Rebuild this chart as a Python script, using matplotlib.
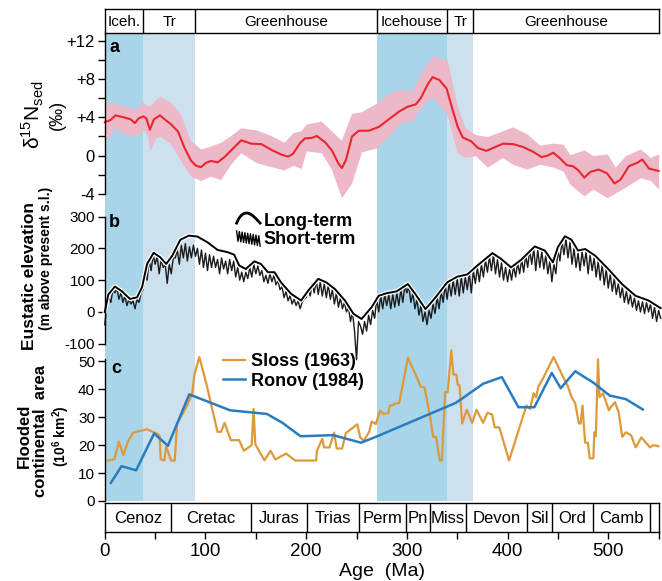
import numpy as np
import matplotlib
matplotlib.use("Agg")
import matplotlib.pyplot as plt
import matplotlib.patheffects as pe
from matplotlib.lines import Line2D
from matplotlib.legend_handler import HandlerBase

plt.rcParams['font.family'] = ['Liberation Sans', 'DejaVu Sans']
plt.rcParams['mathtext.fontset'] = 'custom'
plt.rcParams['mathtext.rm'] = 'Liberation Sans'
plt.rcParams['mathtext.bf'] = 'Liberation Sans:bold'

# ---- climate states (top strip) and shaded bands ----
climate_edges = [0, 38, 90, 270, 340, 366, 550]
climate_names = ["Iceh.", "Tr", "Greenhouse", "Icehouse", "Tr", "Greenhouse"]
ice_bands = [(0, 38), (270, 340)]
trans_bands = [(38, 90), (340, 366)]

# ---- geologic periods (bottom strip) ----
period_edges = [0, 66, 145, 201, 252, 299, 323, 359, 419, 444, 485, 541, 550]
period_names = ["Cenoz", "Cretac", "Juras", "Trias", "Perm", "Pn", "Miss",
                "Devon", "Sil", "Ord", "Camb", ""]

# ---- panel a: d15N ----
n15_age = [0, 5.5, 10.5, 18.8, 25.5, 29.8, 33.8, 38.2, 41.2, 44.8, 48.8, 54.8,
           60.5, 65.5, 72.8, 78.8, 85.5, 90.5, 95.5, 100.5, 105.5, 112, 118.8,
           125.5, 135.5, 145.5, 155.5, 165.5, 175.5, 182, 187, 193.8, 198.8,
           205.5, 210.5, 218.8, 225.5, 232.2, 235.5, 239.5, 245.5, 252.2, 262.2,
           272.2, 282.2, 292.2, 300.5, 308.8, 313.8, 320.5, 325.5, 332.2, 339.5,
           344.8, 350.5, 355.5, 363.8, 370.5, 378.8, 385.5, 395.5, 405.5, 415.5,
           425.5, 433.8, 439.5, 445.5, 452.2, 458.8, 464.8, 470.5, 476.2, 482.2,
           490.5, 498.8, 506.2, 512.2, 520.5, 528.8, 533.8, 540.5, 550]
n15_mid = [3.5, 3.7, 4.2, 4.0, 3.8, 3.4, 3.9, 4.1, 3.9, 2.7, 3.8, 4.2,
           3.7, 3.3, 2.5, 0.9, -0.5, -1.05, -1.2, -0.75, -0.55, -0.7, -0.15,
           0.55, 1.6, 1.25, 1.2, 0.6, 0.1, -0.1, 0.2, 1.3, 1.8,
           1.85, 2.05, 1.4, 0.55, -0.85, -1.3, -0.45, 2.0, 2.6, 2.6,
           3.0, 3.8, 4.6, 5.1, 5.35, 6.0, 7.4, 8.2, 7.9, 7.0,
           5.0, 3.0, 1.9, 1.5, 0.8, 0.5, 0.8, 1.25, 1.2, 0.9,
           0.4, -0.15, 0.0, 0.3, -0.3, -1.0, -1.1, -1.55, -2.3, -1.7,
           -1.45, -1.85, -2.9, -2.5, -1.1, -0.75, -0.4, -1.35, -1.6]
band_age = [0, 5, 10, 20, 30, 38, 42, 45, 50, 55, 65, 75, 85, 95, 105, 115, 125,
            135, 150, 165, 178, 187, 195, 200, 215, 225, 235, 245, 255, 270,
            285, 295, 305, 315, 325, 340, 350, 358, 368, 380, 395, 405, 419,
            432, 445, 455, 462, 476, 485, 499, 507, 517, 532, 542, 550]
band_hi = [5.5, 5.5, 5.4, 5.2, 4.8, 5.6, 5.2, 5.2, 5.8, 6.2, 5.6, 4.4, 1.6, 0.7,
           1.0, 1.4, 2.1, 2.9, 2.7, 2.1, 1.4, 2.4, 2.6, 3.3, 3.6, 2.6, 1.6, 4.4,
           4.6, 5.5, 6.7, 6.9, 6.7, 8.8, 10.4, 10.0, 5.2, 2.9, 2.2, 2.0, 2.6,
           3.0, 2.3, 1.1, 1.3, 1.2, 0.1, 0.6, 0.0, 0.2, -1.2, 0.0, 0.7, -0.2, 0.2]
band_lo = [1.6, 2.0, 3.0, 2.2, 2.0, 2.7, 2.2, 0.5, 1.8, 2.0, 1.3, -0.45, -2.1,
           -2.6, -2.15, -2.5, -0.9, 0.3, -0.7, -1.15, -1.5, -1.0, -1.35, 0.5,
           0.3, -1.4, -4.4, -2.9, 0.4, 0.8, 2.4, 3.5, 3.6, 5.2, 6.1, 4.3, 0.3,
           -0.2, 0.0, -1.2, -0.2, -0.9, -1.4, -0.9, -1.2, -1.6, -3.0, -4.2,
           -3.5, -4.4, -3.9, -3.3, -2.3, -2.6, -3.5]

# ---- panel b: eustatic elevation ----
long_age = [0, 3.5, 10, 17, 25, 32, 37, 42, 48.5, 55, 61, 67, 75, 83.5, 92, 102,
            112, 122, 128.5, 133.5, 140, 148.5, 155, 162, 168.5, 175, 185, 195,
            202, 212, 220, 228.5, 238.5, 247, 255, 265, 272, 280, 290, 301,
            308.5, 318.5, 328.5, 340, 350, 360, 370, 385, 393.5, 403.5, 413.5,
            427, 437, 445, 450, 457, 463.5, 470, 477, 487, 500, 513.5, 527,
            540, 552]
long_term = [0, 55, 80, 65, 41, 46, 78, 151, 186, 172, 151, 177, 227, 240, 237,
             219, 195, 188, 180, 146, 135, 159, 151, 125, 125, 93, 57, 36, 67,
             104, 93, 72, 36, -6, -22, 15, 51, 59, 65, 88, 56, 9, 46, 93, 111,
             118, 146, 185, 167, 140, 164, 206, 193, 156, 204, 238, 227, 193,
             198, 177, 135, 88, 51, 36, 12]
short_term = [
    -40, 20, 45, 30, 70,    60, 75, 40, 60, 30,     50, 20, 40, 25, 35,
    10, 40, 30, 60, 70,     120, 100, 165, 130, 180, 150, 175, 120, 165, 140,
    150, 90, 150, 120, 170,  170, 195, 150, 210, 170, 215, 160, 205, 170, 210,
    175, 200, 150, 195, 140, 185, 130, 180, 140, 175, 140, 165, 120, 170, 135,
    160, 120, 165, 130, 160, 110, 140, 100, 125, 95,  125, 105, 140, 110, 150,
    120, 145, 115, 130, 95,  115, 90, 120, 95, 115,   85, 100, 70, 80, 45,
    65, 35, 52, 25, 40,     20, 35, 10, 30, 40,      45, 70, 50, 90, 60,
    100, 55, 95, 50, 90,    45, 85, 40, 70, 25,      60, 15, 45, 10, 30,
    0, 15, -30, 0, -60,     -150, -30, -45, -70, -30, -60, -10, -40, 5, -20,
    40, 0, 50, 10, 55,      20, 55, 10, 55, 15,      60, 20, 70, 30, 85,
    60, 80, 30, 60, 10,     40, -10, 20, -30, 0,     -40, 5, -20, 25, -5,
    45, 10, 65, 30, 85,     40, 90, 50, 100, 55,     105, 50, 110, 60, 110,
    70, 120, 60, 130, 90,   140, 95, 150, 110, 165,  125, 175, 130, 180, 120,
    165, 110, 155, 100, 140, 95, 135, 100, 145, 110, 155, 120, 165, 125, 180,
    140, 195, 150, 200, 130, 195, 140, 190, 135, 180, 120, 160, 95, 150, 120,
    195, 160, 225, 180, 230, 170, 220, 150, 200, 140, 185, 130, 190, 145, 190,
    120, 180, 130, 170, 110, 160, 100, 150, 85, 135,  75, 120, 65, 105, 55,
    90, 45, 78, 30, 65,     25, 55, 15, 45, 5,       35, 0, 32, -5, 30,
    0, 25, -20, 15, -30,    5, -20]
short_age = np.arange(len(short_term)) * 2

# ---- panel c: flooded continental area ----
sloss_age = [3.1, 9.6, 13.9, 18.5, 23.2, 28.2, 41.9, 52.6, 54.4, 55.5, 59.1, 60.9,
             65.9, 69.5, 71.7, 81.3, 86.7, 89.2, 93.9, 101.1, 111.9, 115.4, 119,
             125.1, 133.4, 138.1, 145.9, 147.7, 149.5, 158.5, 164.6, 169.3, 180.1,
             189, 209.9, 210.6, 216, 217.8, 223.1, 227.8, 230.3, 235.7, 239.3,
             250.8, 253.6, 257.2, 262.6, 265.1, 269.1, 273.4, 277, 281.6, 283.1,
             286, 287.7, 292.4, 301, 309.3, 313.6, 317.5, 322.6, 326.1, 329,
             332.6, 334.8, 338, 340.5, 344.1, 346.2, 349.1, 350.5, 352.3, 354.9,
             359.5, 364.9, 369.2, 375.7, 380, 384.6, 387.2, 391.8, 401.5, 418.7,
             422.3, 425.9, 428.4, 430.6, 434.9, 445.7, 454.6, 460, 463.6, 467.2,
             470.8, 472.6, 474.4, 477, 479.8, 481.6, 485.2, 486.2, 487.7, 489.8,
             491.3, 494.8, 500.6, 503.1, 506.7, 510.3, 513.9, 517.5, 522.8, 527.2,
             532.9, 541.5, 545.1, 549.8]
sloss_area = [14.5, 15.0, 21.3, 16.5, 21.5, 24.5, 25.7, 24.0, 23.3, 15.0, 14.5,
              19.5, 14.5, 14.5, 27.5, 34.0, 38.3, 45.6, 51.6, 41.7, 24.8, 24.8,
              28.0, 21.8, 21.8, 18.0, 20.0, 33.0, 20.3, 14.6, 18.0, 14.9, 17.0,
              14.5, 14.5, 18.0, 22.3, 19.2, 19.2, 24.5, 18.8, 18.8, 24.3, 27.5,
              22.8, 21.6, 24.8, 28.5, 27.6, 32.3, 31.2, 31.5, 34.3, 34.3, 34.9,
              35.1, 51.3, 44.9, 41.0, 40.7, 31.2, 23.0, 23.0, 14.5, 14.5, 39.0,
              39.0, 54.0, 45.3, 45.3, 41.7, 41.4, 27.8, 32.7, 28.0, 32.7, 28.0,
              31.6, 31.0, 26.4, 26.4, 14.5, 34.2, 33.0, 38.6, 37.2, 41.0, 43.7,
              51.6, 44.9, 41.0, 37.2, 35.0, 27.8, 27.8, 34.2, 20.9, 20.9, 15.3,
              15.3, 24.6, 23.2, 50.8, 37.2, 38.6, 32.5, 33.9, 35.4, 31.8, 23.0,
              24.6, 23.5, 19.2, 22.8, 19.2, 20.0, 19.6]
ronov_age = [6.0, 16.7, 31.1, 49.0, 62.7, 83.9, 124.4, 161.0, 176.5, 194.4, 226.7,
             254.4, 268.0, 348.8, 375.7, 394.3, 410.8, 426.6, 443.9, 452.8, 467.2,
             485.2, 501.3, 517.5, 534.3]
ronov_area = [6.5, 12.5, 11.0, 24.2, 19.8, 38.2, 32.5, 31.2, 28.0, 23.2, 23.6,
              20.9, 22.8, 35.2, 42.0, 44.4, 33.6, 33.6, 45.9, 40.4, 46.5, 42.4,
              37.8, 36.5, 32.8]

# colours
ICE = '#a8d5e9'
TRANS = '#cde0ee'
PINK = '#edb9c8'
RED = '#e8262d'
ORANGE = '#dd9a3a'
BLUE = '#2a7cc0'

W, H = 662, 581
XL, XR = 104.8, 658.6
fig = plt.figure(figsize=(W / 100, H / 100), dpi=100)


def add_ax(top, bottom):
    return fig.add_axes([XL / W, 1 - bottom / H, (XR - XL) / W, (bottom - top) / H])


def strip_panel(ax):
    ax.set_facecolor('none')
    for s in ['top', 'right', 'bottom']:
        ax.spines[s].set_visible(False)
    ax.spines['left'].set_linewidth(1.0)
    ax.set_xlim(0, 550)
    ax.set_xticks([])
    ax.tick_params(axis='y', direction='out', length=5, width=1.0, pad=2)


# shaded background
bg = add_ax(33.3, 501)
bg.set_xlim(0, 550)
bg.set_ylim(0, 1)
bg.axis('off')
for a0, a1 in ice_bands:
    bg.axvspan(a0, a1, color=ICE, lw=0)
for a0, a1 in trans_bands:
    bg.axvspan(a0, a1, color=TRANS, lw=0)

# top strip
top = add_ax(9.3, 33.3)
top.set_xlim(0, 550)
top.set_ylim(0, 1)
top.set_xticks([])
top.set_yticks([])
for s in top.spines.values():
    s.set_linewidth(1.0)
for i, name in enumerate(climate_names):
    x0, x1 = climate_edges[i], climate_edges[i + 1]
    if i > 0:
        top.axvline(x0, color='black', lw=1.0)
    top.text((x0 + x1) / 2, 0.47, name, ha='center', va='center', fontsize=11)

# panel a
axa = add_ax(33.3, 200)
strip_panel(axa)
axa.set_ylim(-4.63, 12.77)
axa.spines['left'].set_bounds(-4, 12.77)
axa.fill_between(band_age, band_lo, band_hi, color=PINK, lw=0, clip_on=False)
axa.plot(n15_age, n15_mid, color=RED, lw=1.5, clip_on=False)
axa.set_yticks([-4, 0, 4, 8, 12])
axa.set_yticklabels(['-4', '0', '+4', '+8', '+12'], fontsize=12)
axa.set_yticks([-2, 2, 6, 10], minor=True)
axa.tick_params(axis='y', which='minor', direction='out', length=5, width=1.0)
axa.text(0.008, 0.915, 'a', transform=axa.transAxes, fontsize=13,
         fontweight='bold', va='center')
fig.text(33 / W, 1 - 115 / H, 'δ$^{15}$N$_{\\rm sed}$', rotation=90,
         ha='center', va='center', fontsize=15)
fig.text(57 / W, 1 - 115 / H, '(‰)', rotation=90, ha='center', va='center',
         fontsize=13)


# custom legend icons
class ArcHandler(HandlerBase):
    def create_artists(self, legend, orig_handle, xdescent, ydescent, width,
                       height, fontsize, trans):
        t = np.linspace(0, 1, 15)
        xs = -xdescent + t * width
        ys = -ydescent + height * (0.2 + 0.8 * np.sin(np.pi * t ** 0.8))
        ln = Line2D(xs, ys, color='black', lw=2.0, transform=trans)
        return [ln]


class JagHandler(HandlerBase):
    def create_artists(self, legend, orig_handle, xdescent, ydescent, width,
                       height, fontsize, trans):
        n = 18
        t = np.arange(n) / (n - 1)
        xs = -xdescent + t * width
        base = height * (1.0 - 0.4 * t)
        ys = -ydescent + np.where(np.arange(n) % 2 == 0, base, base - height * 0.8)
        ln = Line2D(xs, ys, color='black', lw=1.0, transform=trans)
        return [ln]


# panel b
axb = add_ax(200, 360)
strip_panel(axb)
axb.set_ylim(-151, 352)
axb.spines['left'].set_bounds(-100, 300)
axb.plot(short_age, short_term, color='#1c1a1a', lw=1.0, clip_on=False)
axb.plot(long_age, long_term, color='black', lw=1.4, clip_on=False,
         path_effects=[pe.Stroke(linewidth=3.2, foreground='white'), pe.Normal()])
axb.set_yticks([-100, 0, 100, 200, 300])
axb.set_yticklabels(['-100', '0', '100', '200', '300'], fontsize=11)
axb.text(0.008, 0.86, 'b', transform=axb.transAxes, fontsize=13,
         fontweight='bold', va='center')
h_long = Line2D([], [], color='black')
h_short = Line2D([], [], color='black')
axb.legend([h_long, h_short], ['Long-term', 'Short-term'],
           handler_map={h_long: ArcHandler(), h_short: JagHandler()},
           loc='upper left', bbox_to_anchor=((224 - XL) / (XR - XL), 1.0),
           frameon=False, handlelength=1.3, handletextpad=0.2,
           labelspacing=0.05, borderpad=0.2,
           prop={'weight': 'bold', 'size': 13})
fig.text(30 / W, 1 - 276 / H, 'Eustatic elevation', rotation=90, ha='center',
         va='center', fontsize=12.5, fontweight='bold')
fig.text(46 / W, 1 - 258 / H, '(m above present s.l.)', rotation=90, ha='center',
         va='center', fontsize=10, fontweight='bold')

# panel c
axc = add_ax(345, 501)
strip_panel(axc)
axc.set_ylim(0, 55.9)
axc.spines['left'].set_bounds(0, 51)
axc.plot(sloss_age, sloss_area, color=ORANGE, lw=1.6, label='Sloss (1963)',
         clip_on=False)
axc.plot(ronov_age, ronov_area, color=BLUE, lw=1.8, label='Ronov (1984)',
         clip_on=False)
axc.set_yticks([0, 10, 20, 30, 40, 50])
axc.set_yticklabels(['0', '10', '20', '30', '40', '50'], fontsize=11)
axc.text(0.011, 0.85, 'c', transform=axc.transAxes, fontsize=13,
         fontweight='bold', va='center')
axc.legend(loc='upper left', bbox_to_anchor=((210 - XL) / (XR - XL), 1.03),
           frameon=False, handlelength=1.25, handletextpad=0.3,
           labelspacing=0.15, borderpad=0.2,
           prop={'weight': 'bold', 'size': 13})
fig.text(24 / W, 1 - 436 / H, 'Flooded', rotation=90, ha='center', va='center',
         fontsize=12, fontweight='bold')
fig.text(41 / W, 1 - 431 / H, 'continental  area', rotation=90, ha='center',
         va='center', fontsize=12, fontweight='bold')
fig.text(61 / W, 1 - 436 / H, r'(10$^{\mathbf{6}}$ km$^{\mathbf{2}}$)',
         rotation=90, ha='center', va='center', fontsize=10, fontweight='bold')

# bottom strip with periods and age axis
bot = add_ax(503.3, 531.7)
bot.set_xlim(0, 550)
bot.set_ylim(0, 1)
bot.set_yticks([])
for s in bot.spines.values():
    s.set_linewidth(1.0)
for i, name in enumerate(period_names):
    x0, x1 = period_edges[i], period_edges[i + 1]
    if i > 0:
        bot.axvline(x0, color='black', lw=1.0)
    bot.text((x0 + x1) / 2, 0.45, name, ha='center', va='center', fontsize=12)
bot.set_xticks(np.arange(0, 551, 100))
bot.set_xticks(np.arange(0, 551, 50), minor=True)
bot.tick_params(axis='x', which='both', direction='out', length=5, width=1.0,
                labelsize=13.5, pad=3)
bot.set_xlabel('Age  (Ma)', fontsize=14, labelpad=2)

fig.savefig('out.png', dpi=100)
